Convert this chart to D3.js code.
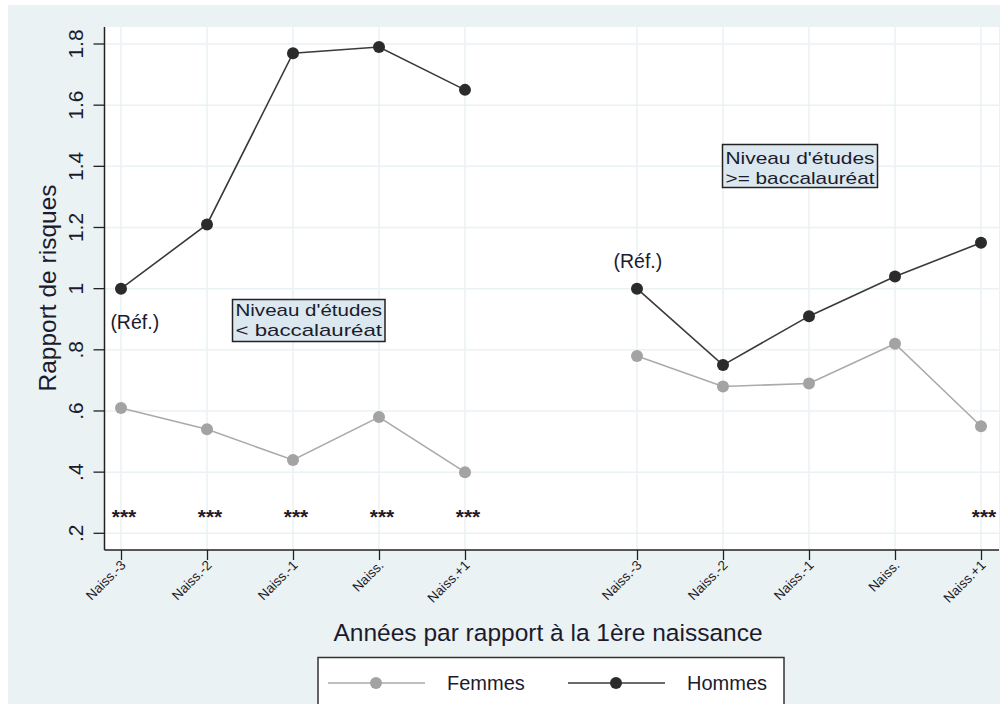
<!DOCTYPE html>
<html><head><meta charset="utf-8">
<script src="https://cdn.jsdelivr.net/npm/d3@7"></script>
<style>
html,body{margin:0;padding:0;background:#fff;}
svg{display:block;font-family:"Liberation Sans",Arial,sans-serif;}
</style></head>
<body><svg id="c" width="1000" height="704"></svg>
<script>
// ---- data ----
const tickLabels = ["Naiss.-3","Naiss.-2","Naiss.-1","Naiss.","Naiss.+1"];
const leftX = [1,2,3,4,5];
const rightX = [7,8,9,10,11];
const hommesLeft = [1.00,1.21,1.77,1.79,1.65];
const femmesLeft = [0.61,0.54,0.44,0.58,0.40];
const hommesRight = [1.00,0.75,0.91,1.04,1.15];
const femmesRight = [0.78,0.68,0.69,0.82,0.55];
const yTicks = [0.2,0.4,0.6,0.8,1,1.2,1.4,1.6,1.8];
const yTickLabels = [".2",".4",".6",".8","1","1.2","1.4","1.6","1.8"];
const starPositions = [1,2,3,4,5,11];
const seriesNames = ["Femmes","Hommes"];

const svg = d3.select("#c");
const W=1000,H=704;
const bg="#eaf2f3", text="#1b1b2e";
svg.append("rect").attr("x",8).attr("y",5).attr("width",W-8).attr("height",H-5).attr("fill",bg);

const x = d3.scaleLinear().domain([1,11]).range([121,981]);
const y = d3.scaleLinear().domain([0.2,1.8]).range([533.3,44]);
const L=104.5,R=999,T=27,B=550;

svg.append("rect").attr("x",L).attr("y",T).attr("width",R-L).attr("height",B-T).attr("fill","#fff");

const allX = leftX.concat(rightX);
const allLab = tickLabels.concat(tickLabels);
// grid
svg.append("g").selectAll("line").data(yTicks).join("line")
  .attr("x1",L).attr("x2",R).attr("y1",d=>y(d)).attr("y2",d=>y(d))
  .attr("stroke",bg).attr("stroke-width",1.5);
svg.append("g").selectAll("line").data(allX).join("line")
  .attr("y1",T).attr("y2",B).attr("x1",d=>x(d)).attr("x2",d=>x(d))
  .attr("stroke",bg).attr("stroke-width",1.5);

// axes
const yAxis = d3.axisLeft(y).tickValues(yTicks).tickFormat((d,i)=>yTickLabels[i]).tickSize(11).tickSizeOuter(0);
const gy = svg.append("g").attr("transform",`translate(${L},0)`).call(yAxis);
gy.select(".domain").attr("d",`M0,${T}V${B}`).attr("stroke","#222").attr("stroke-width",1.5);
gy.selectAll(".tick line").attr("stroke","#222").attr("stroke-width",1.3);
gy.selectAll(".tick text").attr("fill",text).attr("font-size",21)
  .attr("transform",function(d){return `rotate(-90,${-29},${y(d)})`;})
  .attr("x",-29).attr("y",d=>y(d)).attr("dy","0.35em").attr("text-anchor","middle")
  .each(function(d){ d3.select(this.parentNode).attr("transform",null); });
gy.selectAll(".tick line").attr("transform",d=>`translate(0,${y(d)})`);

const xAxis = d3.axisBottom(x).tickValues(allX).tickFormat((d,i)=>allLab[i]).tickSize(10).tickSizeOuter(0);
const gx = svg.append("g").attr("transform",`translate(0,${B})`).call(xAxis);
gx.select(".domain").attr("d",`M${L},0H${R}`).attr("stroke","#222").attr("stroke-width",1.5);
gx.selectAll(".tick line").attr("stroke","#222").attr("stroke-width",1.3);
gx.selectAll(".tick text").attr("fill",text).attr("font-size",13.5)
  .attr("text-anchor","end").attr("y",0).attr("dy",0)
  .attr("transform","translate(5,16) rotate(-45)");

// axis titles
svg.append("text").attr("x",548).attr("y",641).attr("text-anchor","middle")
  .attr("font-size",24.5).attr("fill",text).text("Années par rapport à la 1ère naissance");
svg.append("text").attr("transform","translate(56,288) rotate(-90)").attr("text-anchor","middle")
  .attr("font-size",24.5).attr("fill",text).text("Rapport de risques");

// series
const colF="#a3a3a3", colH="#2b2b2b";
function drawSeries(xs,vals,col,lc){
  const pts = xs.map((d,i)=>[d,vals[i]]);
  svg.append("path").datum(pts).attr("fill","none").attr("stroke",lc).attr("stroke-width",1.6)
    .attr("d",d3.line().x(d=>x(d[0])).y(d=>y(d[1])));
  svg.append("g").selectAll("circle").data(pts).join("circle")
    .attr("cx",d=>x(d[0])).attr("cy",d=>y(d[1])).attr("r",6).attr("fill",col);
}
drawSeries(leftX,femmesLeft,colF,"#aaaaaa");
drawSeries(rightX,femmesRight,colF,"#aaaaaa");
drawSeries(leftX,hommesLeft,colH,"#3a3a3a");
drawSeries(rightX,hommesRight,colH,"#3a3a3a");

// stars
svg.append("g").selectAll("text").data(starPositions).join("text")
  .attr("x",d=>x(d)+3).attr("y",y(0.26)+9).attr("text-anchor","middle")
  .attr("font-size",21).attr("font-weight","bold").attr("fill",text).text("***");

// Réf labels
svg.append("text").attr("x",x(1.16)).attr("y",y(0.89)).attr("dy","0.35em").attr("text-anchor","middle")
  .attr("font-size",19.5).attr("fill",text).text("(Réf.)");
svg.append("text").attr("x",x(7.01)).attr("y",y(1.09)).attr("dy","0.35em").attr("text-anchor","middle")
  .attr("font-size",19.5).attr("fill",text).text("(Réf.)");

// annotation boxes
function box(x0,y0,w,h,b1,lines){
  svg.append("rect").attr("x",x0).attr("y",y0).attr("width",w).attr("height",h)
    .attr("fill","#dbe8ef").attr("stroke","#222").attr("stroke-width",1.5);
  lines.forEach((t,i)=>{
    svg.append("text").attr("x",x0+w/2).attr("y",b1+i*20).attr("text-anchor","middle")
      .attr("font-size",17).attr("textLength",w-6).attr("lengthAdjust","spacingAndGlyphs")
      .attr("fill",text).text(t);
  });
}
box(232.5,299.5,152.5,42,316,["Niveau d'études","< baccalauréat"]);
box(722.5,144.5,155,43,164,["Niveau d'études",">= baccalauréat"]);

// legend
svg.append("rect").attr("x",318).attr("y",657.5).attr("width",466).attr("height",60)
  .attr("fill","#fff").attr("stroke","#333").attr("stroke-width",1.5);
const leg = [{n:seriesNames[0],c:colF,lc:"#aaaaaa",x1:328},{n:seriesNames[1],c:colH,lc:"#3a3a3a",x1:568}];
leg.forEach(d=>{
  svg.append("line").attr("x1",d.x1).attr("x2",d.x1+97).attr("y1",683).attr("y2",683).attr("stroke",d.lc).attr("stroke-width",1.6);
  svg.append("circle").attr("cx",d.x1+48).attr("cy",683).attr("r",6).attr("fill",d.c);
  svg.append("text").attr("x",d.x1+119).attr("y",683).attr("dy","0.35em").attr("font-size",20).attr("fill",text).text(d.n);
});
</script></body></html>
